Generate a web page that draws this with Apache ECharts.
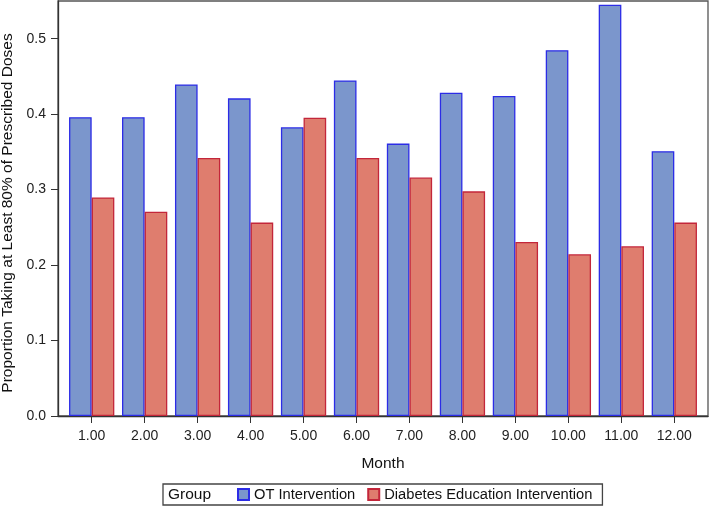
<!DOCTYPE html>
<html>
<head>
<meta charset="utf-8">
<script src="https://cdn.jsdelivr.net/npm/echarts@6/dist/echarts.min.js"></script>
<style>html,body{margin:0;padding:0;background:#fff}#c{width:710px;height:506px}</style>
</head>
<body>
<div id="c"></div>
<script>
var months = [1, 2, 3, 4, 5, 6, 7, 8, 9, 10, 11, 12];
var otIntervention = [0.396, 0.396, 0.4395, 0.421, 0.3827, 0.4448, 0.361, 0.4284, 0.424, 0.4848, 0.545, 0.351];
var diabetesEducation = [0.2897, 0.2708, 0.342, 0.2563, 0.3954, 0.342, 0.316, 0.2977, 0.2307, 0.2144, 0.225, 0.2563];
var yTicks = [0, 0.1, 0.2, 0.3, 0.4, 0.5];
var seriesNames = ['OT Intervention', 'Diabetes Education Intervention'];

var FONT = 'Liberation Sans, Arial, sans-serif';
var chart = echarts.init(document.getElementById('c'), null, {renderer: 'canvas'});

function pairs(xs, ys) { return xs.map(function (x, i) { return [x, ys[i]]; }); }

chart.setOption({
  animation: false,
  textStyle: {fontFamily: FONT},
  grid: {left: 58, right: 2, top: 1, bottom: 90, outerBoundsMode: 'none', containLabel: false,
    show: true, borderColor: '#555', borderWidth: 1.3, backgroundColor: '#fff'},
  xAxis: {
    type: 'value', min: 0.364, max: 12.636,
    name: 'Month', nameLocation: 'middle', nameGap: 40,
    nameTextStyle: {fontSize: 15.5, color: '#111', fontFamily: FONT},
    axisLine: {show: true, lineStyle: {color: '#333', width: 1.3}},
    axisTick: {show: true, length: 7, customValues: months, lineStyle: {color: '#333'}},
    axisLabel: {customValues: months, fontSize: 14, color: '#222', margin: 13, fontFamily: FONT,
      formatter: function (v) { return v.toFixed(2); }},
    splitLine: {show: false}
  },
  yAxis: {
    type: 'value', min: 0, max: 0.55,
    name: 'Proportion Taking at Least 80% of Prescribed Doses', nameLocation: 'middle', nameGap: 37,
    nameTextStyle: {fontSize: 15.5, color: '#111', fontFamily: FONT, padding: [0, 9, 0, 0]},
    axisLine: {show: true, lineStyle: {color: '#333', width: 1.3}},
    axisTick: {show: true, length: 7, customValues: yTicks, lineStyle: {color: '#333'}},
    axisLabel: {customValues: yTicks, fontSize: 14, color: '#222', margin: 12, fontFamily: FONT,
      formatter: function (v) { return v.toFixed(1); }},
    splitLine: {show: false}
  },
  legend: {
    left: 163, top: 484, width: 440,
    padding: [3, 10, 3, 74],
    borderColor: '#444', borderWidth: 1.3,
    itemWidth: 11, itemHeight: 11, itemGap: 12,
    icon: 'rect',
    textStyle: {fontSize: 14.7, color: '#111', fontFamily: FONT},
    data: seriesNames
  },
  graphic: [{
    type: 'text', left: 168, top: 487,
    style: {text: 'Group', font: '15.5px ' + FONT, fill: '#111'}
  }],
  series: [{
    name: seriesNames[0], type: 'bar', data: pairs(months, otIntervention),
    barGap: '0%', barCategoryGap: '14.5%',
    itemStyle: {color: '#7b96cc', borderColor: '#2c2ce6', borderWidth: 1.3}
  }, {
    name: seriesNames[1], type: 'bar', data: pairs(months, diabetesEducation),
    barGap: '0%', barCategoryGap: '14.5%',
    itemStyle: {color: '#df7d6e', borderColor: '#c3263a', borderWidth: 1.3}
  }]
});
</script>
</body>
</html>
